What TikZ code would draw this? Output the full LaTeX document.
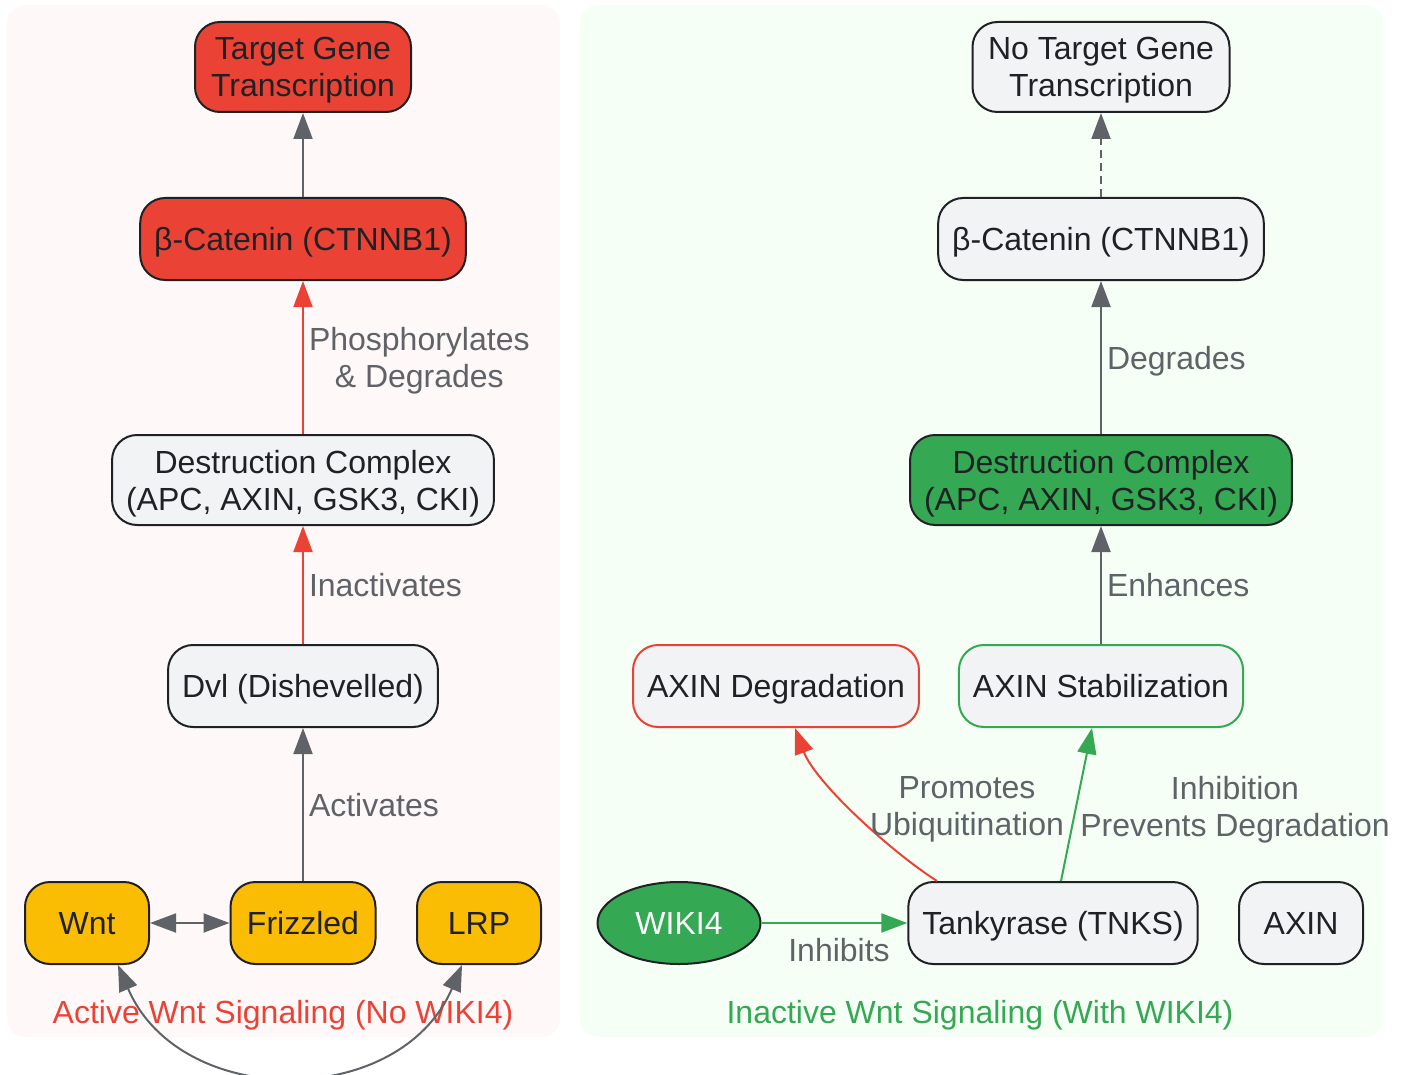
\documentclass[tikz,border=0pt]{standalone}
\usepackage{fontspec}
\setmainfont{Liberation Sans}
\usetikzlibrary{arrows.meta,shapes.geometric}
\definecolor{redA}{HTML}{EA4335}
\definecolor{yellowA}{HTML}{FBBC04}
\definecolor{greenA}{HTML}{34A853}
\definecolor{nodegray}{HTML}{F1F3F4}
\definecolor{edgegray}{HTML}{5F6368}
\definecolor{ink}{HTML}{202124}
\definecolor{leftbg}{HTML}{FFF8F8}
\definecolor{rightbg}{HTML}{F6FFF6}

\begin{document}
\begin{tikzpicture}[x=1pt,y=-1pt,
    box/.style={draw=ink, line width=2pt, rounded corners=25pt, fill=nodegray, text=ink, text depth=0pt,
      align=center, minimum height=82pt, inner xsep=14pt, font=\fontsize{32}{37}\selectfont},
    lbl/.style={text=edgegray, align=center, inner sep=5pt, text depth=0pt, font=\fontsize{32}{37}\selectfont},
    link/.style={draw=edgegray, line width=2pt, -{Triangle[length=26pt,width=19pt]}},
  ]
  \useasboundingbox (0,0) rectangle (1407,1075);
  \fill[leftbg, rounded corners=18pt] (7,5) rectangle (560,1037);
  \fill[rightbg, rounded corners=18pt] (580,5) rectangle (1383,1037);

  % active side
  \node[box, fill=redA, minimum width=216, minimum height=90] (tgt) at (303,67) {Target Gene\\Transcription};
  \node[box, fill=redA] (catA) at (303,239) {β-Catenin (CTNNB1)};
  \node[box, minimum height=90] (dcA) at (303,480) {Destruction Complex\\(APC, AXIN, GSK3, CKI)};
  \node[box] (dvl) at (303,686) {Dvl (Dishevelled)};
  \node[box, fill=yellowA, minimum width=124] (wnt) at (87,923) {Wnt};
  \node[box, fill=yellowA, minimum width=145] (fzd) at (303,923) {Frizzled};
  \node[box, fill=yellowA, minimum width=124] (lrp) at (479,923) {LRP};
  \node[lbl, text=redA] (pl) at (283,1012) {Active Wnt Signaling (No WIKI4)};

  \draw[link] (catA) -- (tgt);
  \draw[link, draw=redA] (dcA) -- node[lbl, right] (lphos) {Phosphorylates\\\& Degrades} (catA);
  \draw[link, draw=redA] (dvl) -- node[lbl, right] (linac) {Inactivates} (dcA);
  \draw[link] (fzd) -- node[lbl, right] (lact) {Activates} (dvl);
  \draw[link, {Triangle[length=26pt,width=19pt]}-{Triangle[length=26pt,width=19pt]}] (wnt) -- (fzd);
  \draw[link, {Triangle[length=26pt,width=19pt]}-{Triangle[length=26pt,width=19pt]}]
    ([xshift=31pt]wnt.south) .. controls (180,1110) and (400,1110) .. ([xshift=-17pt]lrp.south);

  % inactive side
  \node[box, minimum width=257, minimum height=90] (notgt) at (1101,67) {No Target Gene\\Transcription};
  \node[box] (catI) at (1101,239) {β-Catenin (CTNNB1)};
  \node[box, fill=greenA, minimum height=90] (dcI) at (1101,480) {Destruction Complex\\(APC, AXIN, GSK3, CKI)};
  \node[box, draw=redA] (axd) at (776,686) {AXIN Degradation};
  \node[box, draw=greenA] (axs) at (1101,686) {AXIN Stabilization};
  \node[ellipse, draw=ink, line width=2pt, fill=greenA, text=white, minimum width=163, minimum height=82,
    inner sep=0pt, font=\fontsize{32}{37}\selectfont] (wiki) at (679,923) {WIKI4};
  \node[box] (tnks) at (1053,923) {Tankyrase (TNKS)};
  \node[box, minimum width=124] (axin) at (1301,923) {AXIN};
  \node[lbl, text=greenA] (pr) at (980,1012) {Inactive Wnt Signaling (With WIKI4)};

  \draw[link, dash pattern=on 8pt off 5pt] (catI) -- (notgt);
  \draw[link] (dcI) -- node[lbl, right] (ldeg) {Degrades} (catI);
  \draw[link] (axs) -- node[lbl, right] (lenh) {Enhances} (dcI);
  \draw[link, draw=redA] ([xshift=-116pt]tnks.north) .. controls (890,851) and (815,782) .. ([xshift=19pt]axd.south);
  \draw[link, draw=greenA] ([xshift=8pt]tnks.north) -- ([xshift=-9pt]axs.south);
  \draw[link, draw=greenA] (wiki) -- (tnks);
  \node[lbl] (lubi) at (967,806) {Promotes\\Ubiquitination};
  \node[lbl] (lpre) at (1235,806) {Inhibition\\Prevents Degradation};
  \node[lbl] (linh) at (839,950) {Inhibits};
\end{tikzpicture}
\end{document}
